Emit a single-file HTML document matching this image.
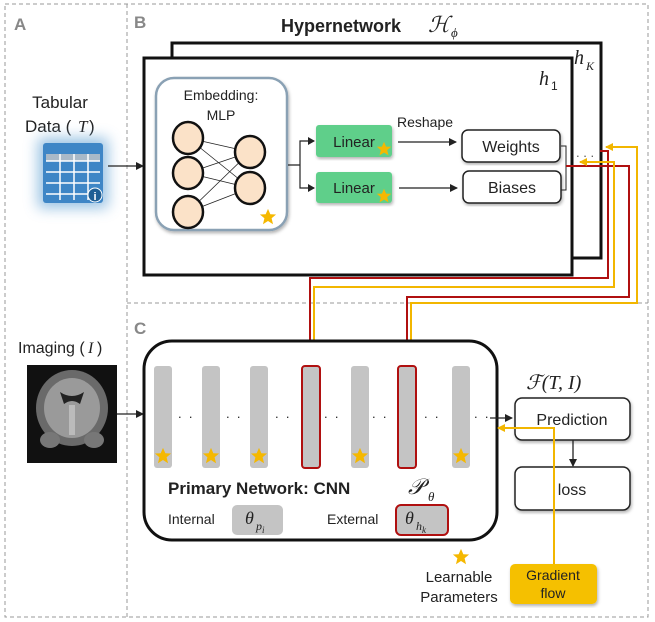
<!DOCTYPE html>
<html><head><meta charset="utf-8"><style>
html,body{margin:0;padding:0;background:#fff}
svg{display:block}
text{font-family:"Liberation Sans",sans-serif;fill:#222}
.m{font-family:"Liberation Serif",serif;font-style:italic}
</style></head><body>
<svg width="655" height="622" viewBox="0 0 655 622" xmlns="http://www.w3.org/2000/svg">
<defs>
<marker id="ak" markerWidth="8" markerHeight="8" refX="7" refY="4" orient="auto" markerUnits="userSpaceOnUse"><path d="M0,0 L8,4 L0,8 z" fill="#222"/></marker>
<marker id="ar" markerWidth="8" markerHeight="8" refX="7" refY="4" orient="auto" markerUnits="userSpaceOnUse"><path d="M0,0 L8,4 L0,8 z" fill="#b01010"/></marker>
<marker id="ay" markerWidth="8" markerHeight="8" refX="7" refY="4" orient="auto" markerUnits="userSpaceOnUse"><path d="M0,0 L8,4 L0,8 z" fill="#f2b600"/></marker>
<symbol id="st" viewBox="-10 -10 20 20"><path d="M0,-9 L2.6,-3 L9,-2.8 L4,1.4 L5.6,8 L0,4.4 L-5.6,8 L-4,1.4 L-9,-2.8 L-2.6,-3 z" fill="#f5b800"/></symbol>
<filter id="gl" x="-50%" y="-50%" width="200%" height="200%"><feGaussianBlur stdDeviation="7"/></filter>
<filter id="sh"><feDropShadow dx="1" dy="2" stdDeviation="1.5" flood-opacity="0.3"/></filter>
</defs>
<!-- dashed panels -->
<rect x="5" y="4" width="643" height="613" fill="none" stroke="#999" stroke-dasharray="4,3"/>
<line x1="127" y1="4" x2="127" y2="617" stroke="#999" stroke-dasharray="4,3"/>
<line x1="127" y1="303" x2="648" y2="303" stroke="#999" stroke-dasharray="4,3"/>
<text x="14" y="30" font-size="17" font-weight="bold" style="fill:#888">A</text>
<text x="134" y="28" font-size="17" font-weight="bold" style="fill:#888">B</text>
<text x="134" y="334" font-size="17" font-weight="bold" style="fill:#888">C</text>
<text x="281" y="32" font-size="18" font-weight="bold">Hypernetwork</text>
<text x="428" y="32" font-size="22" class="m">ℋ</text><text x="451" y="37" font-size="13" class="m">ϕ</text>
<!-- hyper boxes -->
<rect x="172" y="43" width="429" height="215" fill="#fff" stroke="#111" stroke-width="3"/>
<rect x="144" y="58" width="428" height="217" fill="#fff" stroke="#111" stroke-width="3"/>
<text x="574" y="64" font-size="20" class="m">h</text><text x="586" y="70" font-size="12" class="m">K</text>
<text x="539" y="85" font-size="20" class="m">h</text><text x="551" y="90" font-size="12">1</text>
<!-- tabular -->
<text x="60" y="108" font-size="17" text-anchor="middle">Tabular</text>
<text x="25" y="132" font-size="17">Data (</text><text x="78" y="132" font-size="17" class="m">T</text><text x="89" y="132" font-size="17">)</text>
<rect x="38" y="138" width="70" height="70" fill="#7fb2dc" filter="url(#gl)" opacity="0.8"/>
<rect x="43" y="143" width="60" height="60" rx="3" fill="#3e86c6"/>
<rect x="46" y="154" width="54" height="7" fill="#a9b9c8"/>
<g stroke="#fff" stroke-width="1.5"><line x1="46" y1="161" x2="100" y2="161"/><line x1="46" y1="172" x2="100" y2="172"/><line x1="46" y1="183" x2="100" y2="183"/><line x1="46" y1="194" x2="100" y2="194"/><line x1="60" y1="154" x2="60" y2="200"/><line x1="74" y1="154" x2="74" y2="200"/><line x1="88" y1="154" x2="88" y2="200"/></g>
<circle cx="95" cy="195" r="7" fill="#1f5f95" stroke="#fff"/><text x="95" y="200" font-size="11" text-anchor="middle" font-weight="bold" style="fill:#fff">i</text>
<line x1="108" y1="166" x2="143" y2="166" stroke="#222" stroke-width="1.3" marker-end="url(#ak)"/>
<!-- MLP -->
<rect x="156" y="78" width="131" height="152" rx="18" fill="#fff" stroke="#8aa1b4" stroke-width="2.5" filter="url(#sh)"/>
<text x="221" y="100" font-size="14" text-anchor="middle">Embedding:</text>
<text x="221" y="120" font-size="14" text-anchor="middle">MLP</text>
<g stroke="#222" stroke-width="0.8">
<line x1="188" y1="138" x2="250" y2="152"/><line x1="188" y1="138" x2="250" y2="188"/>
<line x1="188" y1="173" x2="250" y2="152"/><line x1="188" y1="173" x2="250" y2="188"/>
<line x1="188" y1="212" x2="250" y2="152"/><line x1="188" y1="212" x2="250" y2="188"/></g>
<g fill="#fbe2c8" stroke="#111" stroke-width="2.5">
<ellipse cx="188" cy="138" rx="15" ry="16"/><ellipse cx="188" cy="173" rx="15" ry="16"/><ellipse cx="188" cy="212" rx="15" ry="16"/>
<ellipse cx="250" cy="152" rx="15" ry="16"/><ellipse cx="250" cy="188" rx="15" ry="16"/></g>
<use href="#st" x="259" y="208" width="18" height="18"/>
<!-- linear -->
<path d="M288,165 H300 V141 H314 M300,165 V188 H314" fill="none" stroke="#222" stroke-width="1.2"/>
<path d="M308,137 L315,141 L308,145z M308,184 L315,188 L308,192z" fill="#222"/>
<rect x="316" y="125" width="76" height="32" rx="3" fill="#5fcf8a" filter="url(#sh)"/>
<rect x="316" y="172" width="76" height="31" rx="3" fill="#5fcf8a" filter="url(#sh)"/>
<text x="354" y="147" font-size="15" text-anchor="middle">Linear</text>
<text x="354" y="193" font-size="15" text-anchor="middle">Linear</text>
<use href="#st" x="376" y="141" width="16" height="16"/><use href="#st" x="376" y="188" width="16" height="16"/>
<text x="397" y="127" font-size="14">Reshape</text>
<line x1="398" y1="142" x2="456" y2="142" stroke="#222" stroke-width="1.2" marker-end="url(#ak)"/>
<line x1="399" y1="188" x2="457" y2="188" stroke="#222" stroke-width="1.2" marker-end="url(#ak)"/>
<rect x="462" y="130" width="98" height="32" rx="6" fill="#fff" stroke="#222" stroke-width="1.5" filter="url(#sh)"/>
<rect x="463" y="171" width="98" height="32" rx="6" fill="#fff" stroke="#222" stroke-width="1.5" filter="url(#sh)"/>
<text x="511" y="152" font-size="16" text-anchor="middle">Weights</text>
<text x="512" y="193" font-size="16" text-anchor="middle">Biases</text>
<path d="M561,146 H566 V190 H561" fill="none" stroke="#222"/>
<text x="576" y="157" font-size="13" style="fill:#555">. . .</text>
<!-- feedback lines -->
<g fill="none" stroke-width="2">
<path d="M566,166 H629 V297 H407 V364" stroke="#b01010" marker-end="url(#ar)"/>
<path d="M600,151 H608 V278 H310 V364" stroke="#b01010" marker-end="url(#ar)"/>
<path d="M411,364 V303 H637 V147 H606" stroke="#f2b600" marker-end="url(#ay)"/>
<path d="M314,364 V287 H614 V162 H580" stroke="#f2b600" marker-end="url(#ay)"/>
</g>
<!-- imaging -->
<text x="18" y="353" font-size="16">Imaging (</text><text x="88" y="353" font-size="16" class="m">I</text><text x="97" y="353" font-size="16">)</text>
<rect x="27" y="365" width="90" height="98" fill="#111"/>
<ellipse cx="72" cy="408" rx="36" ry="38" fill="#6a6a6a"/>
<ellipse cx="72" cy="408" rx="28" ry="30" fill="#9a9a9a"/>
<path d="M60,392 Q72,400 84,392 L80,404 Q72,398 64,404z" fill="#222"/>
<rect x="69" y="405" width="6" height="30" fill="#bbb"/>
<ellipse cx="50" cy="440" rx="10" ry="8" fill="#777"/><ellipse cx="94" cy="440" rx="10" ry="8" fill="#777"/>
<line x1="117" y1="414" x2="143" y2="414" stroke="#222" stroke-width="1.3" marker-end="url(#ak)"/>
<!-- primary network -->
<rect x="144" y="341" width="353" height="199" rx="28" fill="#fff" stroke="#111" stroke-width="3"/>
<g fill="#c4c4c4">
<rect x="154" y="366" width="18" height="102" rx="3"/><rect x="202" y="366" width="18" height="102" rx="3"/>
<rect x="250" y="366" width="18" height="102" rx="3"/><rect x="351" y="366" width="18" height="102" rx="3"/>
<rect x="452" y="366" width="18" height="102" rx="3"/></g>
<rect x="302" y="366" width="18" height="102" rx="3" fill="#c4c4c4" stroke="#b01010" stroke-width="2"/>
<rect x="398" y="366" width="18" height="102" rx="3" fill="#c4c4c4" stroke="#b01010" stroke-width="2"/>
<g><use href="#st" x="154" y="447" width="18" height="18"/><use href="#st" x="202" y="447" width="18" height="18"/><use href="#st" x="250" y="447" width="18" height="18"/><use href="#st" x="351" y="447" width="18" height="18"/><use href="#st" x="452" y="447" width="18" height="18"/></g>
<g font-size="13" style="fill:#444"><text x="178" y="418">.&#160;&#160;.</text><text x="226" y="418">.&#160;&#160;.</text><text x="275" y="418">.&#160;&#160;.</text><text x="324" y="418">.&#160;&#160;.</text><text x="372" y="418">.&#160;&#160;.</text><text x="424" y="418">.&#160;&#160;.</text><text x="474" y="418">.&#160;&#160;.</text></g>
<line x1="490" y1="418" x2="512" y2="418" stroke="#222" stroke-width="1.3" marker-end="url(#ak)"/>
<text x="168" y="494" font-size="17" font-weight="bold">Primary Network: CNN</text>
<text x="408" y="494" font-size="22" class="m">𝒫</text><text x="428" y="501" font-size="13" class="m">θ</text>
<text x="168" y="524" font-size="14">Internal</text>
<rect x="232" y="505" width="51" height="30" rx="5" fill="#c4c4c4"/>
<text x="245" y="524" font-size="18" class="m">θ</text><text x="256" y="530" font-size="12" class="m">p<tspan dy="3" font-size="9">i</tspan></text>
<text x="327" y="524" font-size="14">External</text>
<rect x="396" y="505" width="52" height="30" rx="5" fill="#c4c4c4" stroke="#b01010" stroke-width="2"/>
<text x="405" y="524" font-size="18" class="m">θ</text><text x="416" y="530" font-size="12" class="m">h<tspan dy="3" font-size="9">k</tspan></text>
<!-- prediction -->
<text x="526" y="389" font-size="20" class="m">ℱ(T, I)</text>
<rect x="515" y="398" width="115" height="42" rx="7" fill="#fff" stroke="#222" stroke-width="1.5" filter="url(#sh)"/>
<text x="572" y="425" font-size="16" text-anchor="middle">Prediction</text>
<line x1="573" y1="440" x2="573" y2="466" stroke="#222" stroke-width="1.3" marker-end="url(#ak)"/>
<rect x="515" y="467" width="115" height="43" rx="7" fill="#fff" stroke="#222" stroke-width="1.5" filter="url(#sh)"/>
<text x="572" y="495" font-size="16" text-anchor="middle">loss</text>
<path d="M554,564 V428 H498" fill="none" stroke="#f2b600" stroke-width="2" marker-end="url(#ay)"/>
<use href="#st" x="452" y="548" width="18" height="18"/>
<text x="459" y="582" font-size="15" text-anchor="middle">Learnable</text>
<text x="459" y="602" font-size="15" text-anchor="middle">Parameters</text>
<rect x="510" y="564" width="87" height="40" rx="5" fill="#f5c000" filter="url(#sh)"/>
<text x="553" y="580" font-size="14" text-anchor="middle">Gradient</text>
<text x="553" y="598" font-size="14" text-anchor="middle">flow</text>
</svg>
</body></html>
